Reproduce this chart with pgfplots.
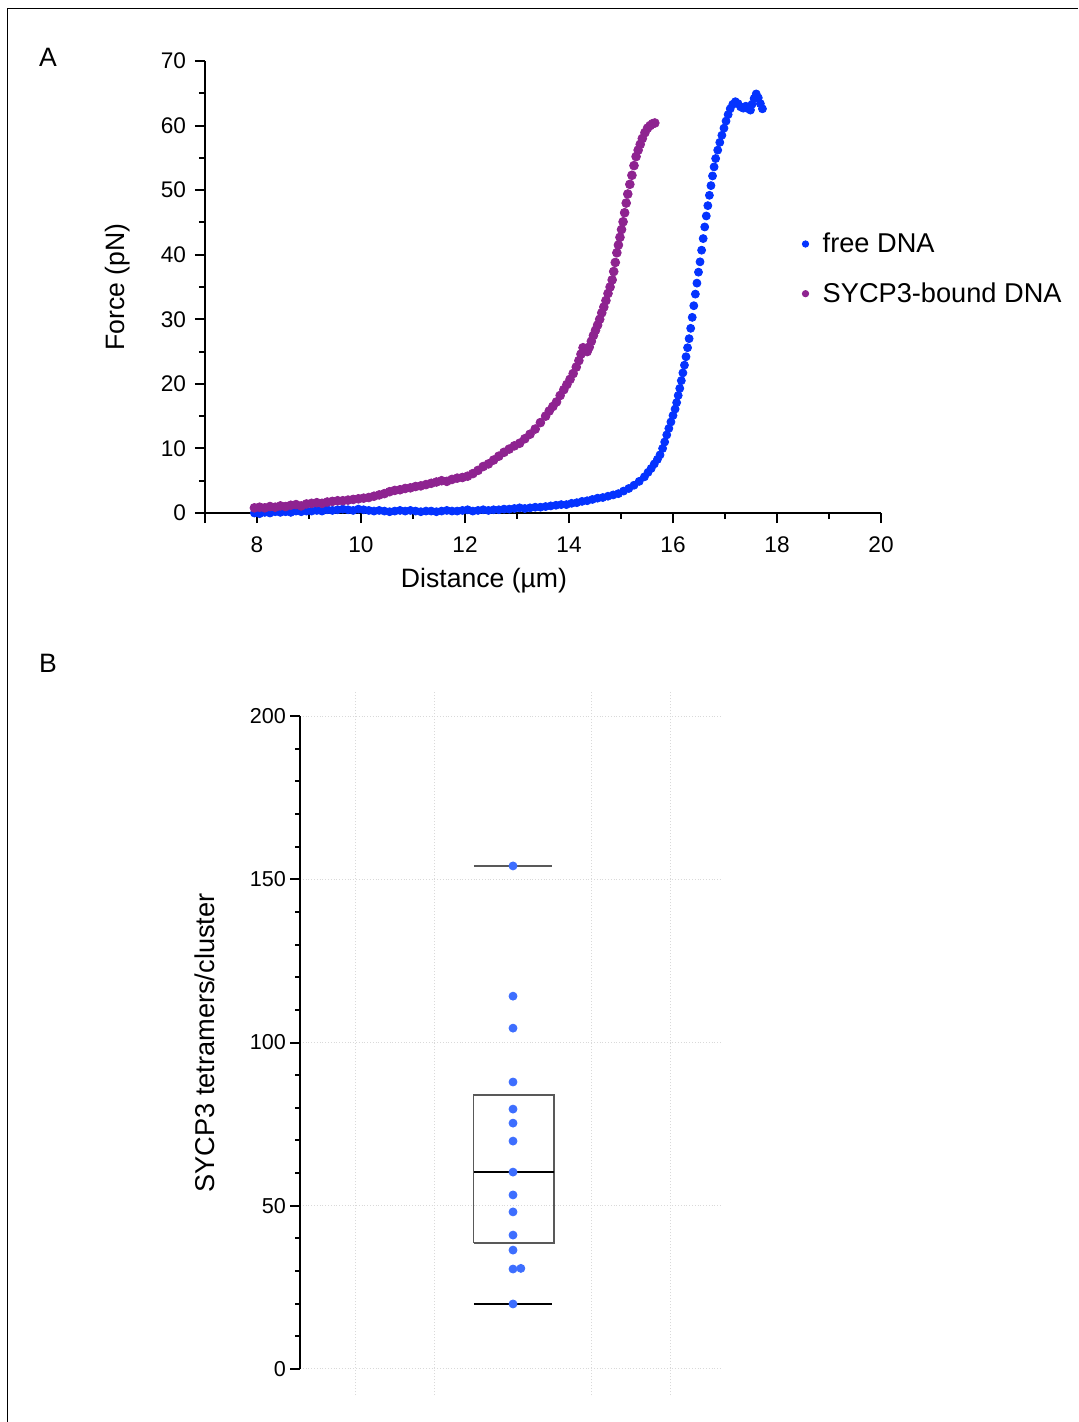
\documentclass[border=0pt]{standalone}
\usepackage{fontspec}
\setmainfont{Liberation Sans}
\usepackage{pgfplots}
\pgfplotsset{compat=1.18}
\definecolor{freeblue}{HTML}{0433FF}
\definecolor{sycpurple}{HTML}{8E2390}
\definecolor{dotblue}{HTML}{3D6EFF}
\newcommand{\lblfont}{\fontsize{13.3}{16}\selectfont}
\newcommand{\legfont}{\fontsize{13.6}{16}\selectfont}
\newcommand{\tckfont}{\fontsize{11.3}{13.5}\selectfont}

\begin{document}
\begin{tikzpicture}
\path[use as bounding box] (0pt,0pt) rectangle (539pt,-711pt);
\draw[line width=0.5pt] (3.5pt,-711pt) -- (3.5pt,-4.5pt) -- (539pt,-4.5pt);
\node[font=\lblfont] at (24pt,-28.5pt) {A};
\node[font=\lblfont] at (24pt,-331.5pt) {B};

% ---- panel A: force-distance curves
\begin{axis}[
  at={(102.5pt,-256.5pt)}, anchor=south west,
  scale only axis, width=338pt, height=226pt,
  xmin=7, xmax=20, ymin=0, ymax=70,
  axis lines=left, axis line style={-, line width=1pt},
  tick align=outside,
  xtick={8,10,...,20}, minor xtick={9,11,...,19},
  extra x ticks={7}, extra x tick labels={},
  ytick={0,10,...,70}, minor ytick={5,15,...,65},
  major tick length=5pt, minor tick length=3pt,
  tick style={line width=1pt, black},
  tick label style={font=\tckfont},
  xticklabel style={yshift=-3.5pt},
  yticklabel style={xshift=-1pt},
  /pgf/number format/assume math mode=true,
  xlabel={Distance (µm)}, ylabel={Force (pN)},
  label style={font=\lblfont},
  xlabel style={at={(axis description cs:0.4127,-0.1504)}, anchor=center},
  ylabel style={at={(axis description cs:-0.1287,0.5)}, anchor=center},
  legend style={draw=none, fill=none, inner sep=0pt,
    at={(axis description cs:0.883,0.630)}, anchor=north west,
    font=\legfont, row sep=9.5pt, column sep=5pt},
  legend cell align=left,
  legend image code/.code={\draw[#1, mark size=1.6pt] plot coordinates {(0pt,0pt)};},
  clip=false,
]
\addplot[only marks, mark=*, mark size=2pt, color=freeblue] table {
x y
7.95 0.0
8.05 -0.1
8.15 0.1
8.25 0.0
8.35 0.2
8.45 0.1
8.55 0.2
8.65 0.1
8.75 0.3
8.85 0.2
8.95 0.3
9.05 0.3
9.15 0.4
9.25 0.3
9.35 0.5
9.45 0.4
9.55 0.5
9.65 0.6
9.75 0.5
9.85 0.4
9.95 0.6
10.05 0.5
10.15 0.4
10.25 0.3
10.35 0.4
10.45 0.3
10.55 0.2
10.65 0.3
10.75 0.4
10.85 0.3
10.95 0.4
11.05 0.3
11.15 0.2
11.25 0.3
11.35 0.3
11.45 0.2
11.55 0.3
11.65 0.4
11.75 0.3
11.85 0.3
11.95 0.4
12.05 0.5
12.15 0.3
12.25 0.4
12.35 0.5
12.45 0.4
12.55 0.5
12.65 0.5
12.75 0.6
12.85 0.6
12.95 0.7
13.05 0.8
13.15 0.7
13.25 0.8
13.35 0.9
13.45 0.9
13.55 1.0
13.65 1.1
13.75 1.2
13.85 1.3
13.95 1.3
14.05 1.5
14.15 1.6
14.25 1.8
14.35 1.9
14.45 2.1
14.55 2.3
14.65 2.4
14.75 2.6
14.85 2.8
14.95 3.0
15.05 3.4
15.15 3.8
15.25 4.3
15.35 4.9
15.45 5.6
15.52 6.3
15.58 6.9
15.64 7.6
15.70 8.3
15.75 9.0
15.80 10.0
15.84 11.0
15.88 12.1
15.92 13.1
15.96 14.1
16.00 15.1
16.04 16.1
16.07 17.1
16.10 18.2
16.13 19.3
16.16 20.5
16.19 21.7
16.22 22.9
16.25 24.2
16.28 25.6
16.31 27.0
16.34 28.6
16.37 30.3
16.40 32.1
16.43 33.9
16.46 35.6
16.49 37.3
16.52 38.9
16.55 40.7
16.58 42.5
16.61 44.3
16.64 46.0
16.67 47.6
16.70 49.2
16.73 50.7
16.76 52.2
16.79 53.6
16.82 54.9
16.86 56.2
16.90 57.4
16.94 58.5
16.98 59.6
17.02 60.7
17.06 61.7
17.10 62.6
17.15 63.3
17.20 63.7
17.25 63.4
17.30 62.9
17.35 62.7
17.40 63.0
17.45 62.6
17.49 62.4
17.52 63.3
17.56 64.2
17.60 64.9
17.64 64.3
17.68 63.4
17.72 62.6
};
\addlegendentry{free DNA}
\addplot[only marks, mark=*, mark size=2.2pt, color=sycpurple] table {
x y
7.95 0.8
8.05 0.9
8.15 0.8
8.25 1.0
8.35 0.9
8.45 1.1
8.55 1.0
8.65 1.2
8.75 1.3
8.85 1.1
8.95 1.4
9.05 1.5
9.15 1.6
9.25 1.5
9.35 1.7
9.45 1.8
9.55 1.9
9.65 1.9
9.75 2.0
9.85 2.1
9.95 2.2
10.05 2.3
10.15 2.4
10.25 2.6
10.35 2.8
10.45 3.0
10.55 3.3
10.65 3.5
10.75 3.6
10.85 3.8
10.95 3.9
11.05 4.1
11.15 4.2
11.25 4.4
11.35 4.6
11.45 4.8
11.55 5.0
11.65 4.9
11.75 5.2
11.85 5.4
11.95 5.5
12.05 5.7
12.15 6.1
12.25 6.6
12.35 7.2
12.45 7.6
12.55 8.2
12.65 8.8
12.75 9.4
12.85 9.9
12.95 10.4
13.05 10.8
13.15 11.5
13.25 12.2
13.35 13.0
13.45 14.0
13.55 15.0
13.62 15.8
13.69 16.5
13.76 17.2
13.83 18.2
13.90 19.1
13.96 19.9
14.02 20.7
14.08 21.6
14.14 22.6
14.19 23.6
14.23 24.6
14.27 25.6
14.31 25.2
14.35 25.0
14.39 25.7
14.43 26.6
14.47 27.5
14.51 28.3
14.55 29.1
14.59 30.0
14.63 31.0
14.67 31.9
14.71 32.9
14.75 34.0
14.79 35.0
14.83 36.1
14.86 37.4
14.89 38.8
14.92 40.3
14.95 41.5
14.98 42.7
15.01 43.9
15.04 45.1
15.07 46.5
15.10 48.0
15.13 49.4
15.17 50.9
15.21 52.3
15.25 53.8
15.29 55.2
15.33 56.2
15.37 57.1
15.41 58.0
15.46 58.9
15.51 59.6
15.56 60.0
15.61 60.3
15.65 60.4
};
\addlegendentry{SYCP3-bound DNA}
\end{axis}

% ---- panel B: tetramers per cluster
\begin{axis}[
  at={(150pt,-697.5pt)}, anchor=south west,
  scale only axis, width=211pt, height=352.5pt,
  xmin=-2.713, xmax=2.662, ymin=-8, ymax=208,
  axis lines=left, axis line style={-},
  x axis line style={draw=none}, y axis line style={draw=none},
  xtick=\empty,
  ytick={0,50,...,200},
  minor ytick={10,20,30,40,60,70,80,90,110,120,130,140,160,170,180,190},
  tick align=outside, major tick length=5pt, minor tick length=2.5pt,
  tick style={line width=1pt, black},
  tick label style={font=\fontsize{10.8}{13}\selectfont},
  yticklabel style={xshift=1.5pt},
  /pgf/number format/assume math mode=true,
  ymajorgrids, grid style={densely dotted, black!15, line width=0.5pt},
  ylabel={SYCP3 tetramers/cluster},
  label style={font=\fontsize{13.6}{16}\selectfont},
  ylabel style={at={(axis description cs:-0.225,0.4993)}, anchor=center},
  clip=false,
]
\foreach \gx in {-2,-1,1,2} {
  \edef\tmp{\noexpand\draw[densely dotted, black!15, line width=0.5pt] (axis cs:\gx,-8) -- (axis cs:\gx,208);}
  \tmp
}
\draw[line width=1pt] (axis cs:-2.713,0) -- (axis cs:-2.713,200);
% box (quartiles), median and whisker caps
\addplot[draw=black!65, line width=0.7pt] coordinates {(-0.5,38.6) (0.52,38.6) (0.52,83.9) (-0.5,83.9) (-0.5,38.6)};
\addplot[draw=black, line width=0.6pt] coordinates {(-0.5,60.3) (0.52,60.3)};
\addplot[draw=black!65, line width=0.7pt] coordinates {(-0.5,154.1) (0.5,154.1)};
\addplot[draw=black, line width=0.6pt] coordinates {(-0.5,19.9) (0.5,19.9)};
% individual clusters
\addplot[only marks, mark=*, mark size=2pt, color=dotblue] coordinates {
(0,154.1) (0,114.2) (0,104.4) (0,87.9) (0,79.6) (0,75.3) (0,69.8)
(0,60.3) (0,53.3) (0,48.1) (0,41.0) (0,36.4) (0,30.6) (0.1,30.8) (0,19.9)
};
\end{axis}
\end{tikzpicture}
\end{document}
